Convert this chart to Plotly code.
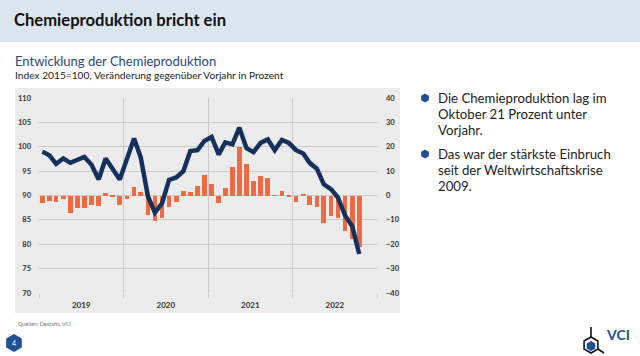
import math
import plotly.graph_objects as go

# ---------------- data ----------------
years = [2019, 2020, 2021, 2022]
month_numbers = list(range(1, 13))
# months Jan 2019 .. Oct 2022 (mid-month dates)
months = [f"{y}-{m:02d}-16" for y in years for m in month_numbers][:46]

# Chemieproduktion, Index 2015=100
index_values = [
    99.0, 98.2, 96.5, 97.6, 96.7, 97.3, 97.9, 96.3, 93.3, 97.6, 95.4, 93.3,
    97.5, 101.7, 97.8, 89.8, 86.5, 88.4, 93.2, 93.7, 95.0, 99.1, 99.3, 101.2,
    102.0, 98.4, 100.9, 100.5, 103.9, 99.7, 98.9, 100.8, 101.5, 99.3, 101.4, 100.8,
    99.3, 98.6, 96.7, 95.5, 92.3, 91.3, 89.6, 85.9, 83.7, 78.0,
]
# Veränderung gegenüber Vorjahr in Prozent
change_values = [
    -3.0, -2.3, -2.6, -1.5, -7.1, -5.0, -5.0, -4.1, -4.2, 1.0, -0.4, -3.7,
    -1.6, 3.5, 1.4, -8.0, -10.6, -9.2, -4.8, -2.8, 1.7, 1.4, 4.0, 8.5,
    4.6, -3.2, 3.0, 11.6, 20.0, 13.0, 6.1, 7.8, 7.1, 0.2, 2.0, -0.3,
    -2.8, 0.4, -4.1, -4.9, -11.3, -8.3, -9.3, -14.7, -17.8, -21.0,
]

title = "Chemieproduktion bricht ein"
subtitle = "Entwicklung der Chemieproduktion"
subtitle2 = "Index 2015=100, Veränderung gegenüber Vorjahr in Prozent"
bullet1 = ["Die Chemieproduktion lag im", "Oktober 21 Prozent unter", "Vorjahr."]
bullet2 = ["Das war der stärkste Einbruch", "seit der Weltwirtschaftskrise", "2009."]
source = "Quellen: Destatis, VCI"

# ---------------- style ----------------
W, H = 640, 356
FONT = "Lato"
NAVY = "#15315b"
ORANGE = "#ee6a43"
PANEL = "#ebebeb"
GRID = "#c9c9c9"
HEADER = "#dbe5ee"
BLUE = "#214f93"


def px(x):
    return x / W


def py(y):
    return 1 - y / H


def hexpath(cx, cy, r):
    pts = []
    for k in range(6):
        a = math.radians(90 + 60 * k)
        pts.append((px(cx + r * math.cos(a)), py(cy - r * math.sin(a))))
    return "M " + " L ".join(f"{a:.5f},{b:.5f}" for a, b in pts) + " Z"


fig = go.Figure()
fig.add_trace(go.Bar(
    x=months, y=change_values, yaxis="y", marker_color=ORANGE,
    marker_line_width=0, width=20 * 86400000, showlegend=False,
    hoverinfo="skip",
))
fig.add_trace(go.Scatter(
    x=months, y=index_values, yaxis="y2", mode="lines",
    line=dict(color=NAVY, width=4.5), showlegend=False, hoverinfo="skip",
))

tickfont = dict(family=FONT, size=7.5, color="#333333", weight="bold")

fig.update_layout(
    width=W, height=H,
    autosize=False,
    margin=dict(l=0, r=0, t=0, b=0, pad=0, autoexpand=False),
    paper_bgcolor="white",
    plot_bgcolor=PANEL,
    font=dict(family=FONT),
    bargap=0,
    xaxis=dict(
        type="date", domain=[px(39), px(377)],
        range=["2019-01-01", "2023-01-01"],
        tick0="2019-01-01", dtick="M12", ticklabelmode="period",
        tickformat="%Y", showgrid=True, gridcolor=GRID, gridwidth=1,
        ticks="outside", ticklen=4, tickcolor=GRID, automargin=False,
        showline=False, zeroline=False, tickfont=dict(tickfont, size=8),
        fixedrange=True,
    ),
    yaxis=dict(
        domain=[py(293), py(98)], range=[-40, 40], dtick=10, side="right",
        showgrid=True, gridcolor=GRID, gridwidth=1, zeroline=False,
        showline=False, ticks="", tickfont=tickfont, ticklabelstandoff=8,
        automargin=False, fixedrange=True,
    ),
    yaxis2=dict(
        overlaying="y", side="left", range=[70, 110], dtick=5,
        showgrid=False, zeroline=False, showline=False, ticks="",
        tickfont=tickfont, ticklabelstandoff=7, automargin=False,
        fixedrange=True,
    ),
)

shapes = [
    dict(type="rect", xref="paper", yref="paper", x0=0, x1=1, y0=py(42), y1=1,
         fillcolor=HEADER, line_width=0, layer="below"),
    dict(type="rect", xref="paper", yref="paper", x0=px(15), x1=px(400),
         y0=py(313), y1=py(88), fillcolor=PANEL, line_width=0, layer="below"),
    # bullets
    dict(type="path", xref="paper", yref="paper", path=hexpath(425, 98, 4.5),
         fillcolor=BLUE, line_width=0),
    dict(type="path", xref="paper", yref="paper", path=hexpath(425, 154, 4.5),
         fillcolor=BLUE, line_width=0),
    # page badge
    dict(type="path", xref="paper", yref="paper", path=hexpath(14, 343, 9),
         fillcolor=BLUE, line_width=0),
    # VCI logo
    dict(type="path", xref="paper", yref="paper", path=hexpath(591, 345, 8),
         fillcolor="white", line=dict(color="#111111", width=1.6)),
    dict(type="path", xref="paper", yref="paper", path=hexpath(591, 346, 5),
         fillcolor=BLUE, line_width=0),
    dict(type="line", xref="paper", yref="paper", x0=px(591), x1=px(591),
         y0=py(337), y1=py(327), line=dict(color="#111111", width=1.6)),
    dict(type="line", xref="paper", yref="paper", x0=px(598), x1=px(604),
         y0=py(349), y1=py(353), line=dict(color="#111111", width=1.6)),
]
fig.update_layout(shapes=shapes)

ann = []


def text(x, y, s, size, color="#1a1a1a", bold=False, anchor="left"):
    ann.append(dict(
        xref="paper", yref="paper", x=px(x), y=py(y), text=s, showarrow=False,
        xanchor=anchor, yanchor="middle",
        font=dict(family=FONT, size=size, color=color,
                  weight="bold" if bold else "normal"),
    ))


text(12, 20, title, 16.6, "#111111", bold=True)
text(13, 61, subtitle, 13, "#2a4777")
text(13, 75, subtitle2, 10.2, "#222222")
for i, line in enumerate(bullet1):
    text(436, 98 + i * 16.2, line, 13.2, "#222222")
for i, line in enumerate(bullet2):
    text(436, 154 + i * 16.2, line, 13.2, "#222222")
text(16, 324, source, 5.5, "#777777")
text(14, 343, "4", 7, "white", anchor="center")
text(604, 334, "VCI", 14, BLUE, bold=True)

fig.update_layout(annotations=ann)

fig.write_html(
    "out.html",
    config={"displayModeBar": False, "responsive": False},
    post_script=(
        "document.documentElement.style.margin='0';"
        "document.documentElement.style.overflow='hidden';"
        "document.body.style.margin='0';"
        "document.body.style.overflow='hidden';"
    ),
)
